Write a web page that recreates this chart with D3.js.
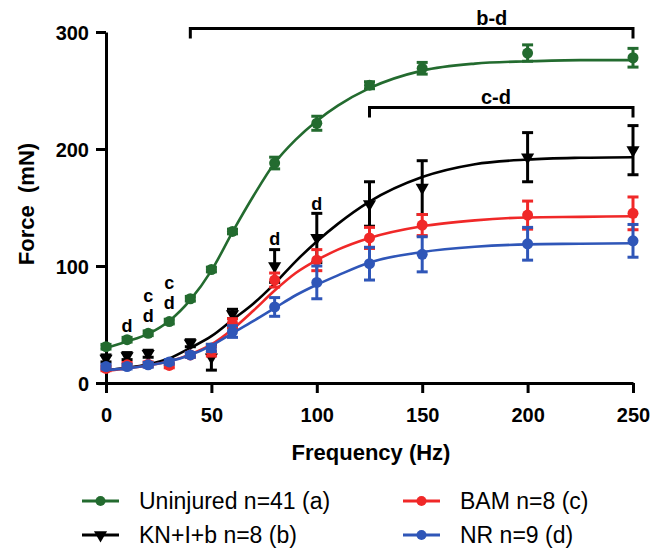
<!DOCTYPE html>
<meta charset="utf-8">
<html>
<head>
<style>
  body { margin: 0; background: #fff; }
  svg { display: block; font-family: Arial, "Liberation Sans", Helvetica, sans-serif; }
  .axis path, .axis line { stroke: #000; stroke-width: 3; }
  .axis text { font-size: 20px; font-weight: bold; fill: #000; }
</style>
<script src="https://d3js.org/d3.v7.min.js"></script>
</head>
<body>
<svg width="658" height="550"></svg>
<script>

// measured frequencies (Hz)
var freqs = [0, 10, 20, 30, 40, 50, 60, 80, 100, 125, 150, 200, 250];

// mean force (mN) and error per group
var uninjuredMean = [31, 37, 42.5, 52.5, 72, 97, 129.5, 188, 222, 254.5, 269, 282, 278];
var uninjuredErr  = [2, 2, 2, 2, 2, 2, 2, 5, 6, 3, 5, 7, 8];
var knMean  = [21, 23, 25, null, 34, 22, 59, 100, 124, 153, 167, 193, 199];
var knErr   = [3, 3, 3, null, 3, 11, 4, 14, 21, 19, 23, 21, 21];
var bamMean = [12.5, 15.5, 16, 15, 24, 27, 51, 88, 105, 124, 135, 143.5, 145];
var bamErr  = [2, 2, 2, 2, 2, 4, 4, 6, 9, 9, 9, 12, 14];
var nrMean  = [14, 14, 15.5, 18, 24, 30, 44, 65, 86, 102, 110, 119, 121.5];
var nrErr   = [2, 2, 2, 2, 2, 3, 5, 8, 14, 14, 15, 14, 14];

// fitted curves, sampled along the drawn lines
var fitFreqs = [0, 10, 20, 30, 40, 50, 60, 70, 80, 90, 100, 110, 125, 150, 175, 200, 225, 250];
var uninjuredFit = [30, 35.5, 42, 53, 71, 96, 129, 160, 188, 208, 224, 237, 252, 267, 273, 275, 276, 276];
var knFit  = [11, 13, 16, 21, 30, 40, 54, 68, 85, 104, 121, 136, 155, 176, 187, 191, 192.5, 193];
var bamFit = [10.5, 12.5, 15, 18.5, 24.5, 33, 46, 62, 79, 94, 105, 114, 124, 134, 139, 141.5, 142, 142.5];
var nrFit  = [11, 12.5, 15, 18.5, 24, 32, 42.5, 53, 64, 75, 84, 92, 103, 112, 116.5, 118.5, 119, 119.5];

var seriesNames = ["Uninjured n=41 (a)", "KN+I+b n=8 (b)", "BAM n=8 (c)", "NR n=9 (d)"];

var xTicks = [0, 50, 100, 150, 200, 250];
var yTicks = [0, 100, 200, 300];

// significance brackets: from/to frequency, force level, label centre frequency
var brackets = [
  { from: 40, to: 250, level: 303, label: "b-d", labelAt: 183 },
  { from: 125, to: 250, level: 235.5, label: "c-d", labelAt: 185 }
];
// letters above single points (top letter first, force level of the top one)
var letters = [
  { f: 10, v: 49.5, t: ["d"] },
  { f: 20, v: 75, t: ["c", "d"] },
  { f: 30, v: 86, t: ["c", "d"] },
  { f: 80, v: 123.5, t: ["d"] },
  { f: 100, v: 153.5, t: ["d"] }
];

var svg = d3.select("svg");

var x = d3.scaleLinear().domain([0, 250]).range([106, 633]);
var y = d3.scaleLinear().domain([0, 300]).range([383, 32]);

var groups = [
  { name: seriesNames[0], mean: uninjuredMean, err: uninjuredErr, fit: uninjuredFit, color: "#236b2f", sym: "circle" },
  { name: seriesNames[1], mean: knMean, err: knErr, fit: knFit, color: "#000000", sym: "tri" },
  { name: seriesNames[2], mean: bamMean, err: bamErr, fit: bamFit, color: "#f02828", sym: "circle" },
  { name: seriesNames[3], mean: nrMean, err: nrErr, fit: nrFit, color: "#2f56b8", sym: "circle" }
];

// axes
var xAxis = svg.append("g")
  .attr("class", "axis")
  .attr("transform", "translate(0," + y(0) + ")")
  .call(d3.axisBottom(x).tickValues(xTicks).tickSize(10).tickSizeOuter(0).tickPadding(15));
xAxis.selectAll("text").attr("dy", "0.72em");

var yAxis = svg.append("g")
  .attr("class", "axis")
  .attr("transform", "translate(" + x(0) + ",0)")
  .call(d3.axisLeft(y).tickValues(yTicks).tickSize(10).tickSizeOuter(0).tickPadding(7));
yAxis.selectAll("text").attr("dy", "0.36em");

svg.append("text")
  .attr("x", 371).attr("y", 460)
  .attr("text-anchor", "middle")
  .attr("font-size", 22).attr("font-weight", "bold")
  .text("Frequency (Hz)");

svg.append("text")
  .attr("transform", "translate(34,204) rotate(-90)")
  .attr("text-anchor", "middle")
  .attr("font-size", 22).attr("font-weight", "bold")
  .style("white-space", "pre")
  .text("Force  (mN)");

var line = d3.line()
  .x(function(d) { return x(d[0]); })
  .y(function(d) { return y(d[1]); })
  .curve(d3.curveMonotoneX);

var triangle = d3.symbol().type(d3.symbolTriangle).size(75);

groups.forEach(function(g) {
  var layer = svg.append("g");
  layer.append("path")
    .attr("d", line(fitFreqs.map(function(f, i) { return [f, g.fit[i]]; })))
    .attr("fill", "none")
    .attr("stroke", g.color)
    .attr("stroke-width", 2.6);

  var pts = freqs.map(function(f, i) { return { f: f, m: g.mean[i], e: g.err[i] }; })
    .filter(function(d) { return d.m != null; });

  var eb = layer.selectAll(".eb").data(pts).enter().append("g")
    .attr("stroke", g.color).attr("stroke-width", 3);
  eb.append("line")
    .attr("x1", function(d) { return x(d.f); }).attr("x2", function(d) { return x(d.f); })
    .attr("y1", function(d) { return y(d.m - d.e); }).attr("y2", function(d) { return y(d.m + d.e); });
  eb.append("line")
    .attr("x1", function(d) { return x(d.f) - 5.5; }).attr("x2", function(d) { return x(d.f) + 5.5; })
    .attr("y1", function(d) { return y(d.m + d.e); }).attr("y2", function(d) { return y(d.m + d.e); });
  eb.append("line")
    .attr("x1", function(d) { return x(d.f) - 5.5; }).attr("x2", function(d) { return x(d.f) + 5.5; })
    .attr("y1", function(d) { return y(d.m - d.e); }).attr("y2", function(d) { return y(d.m - d.e); });

  if (g.sym === "tri") {
    layer.selectAll(".mk").data(pts).enter().append("path")
      .attr("d", triangle)
      .attr("transform", function(d) { return "translate(" + x(d.f) + "," + y(d.m) + ") rotate(180)"; })
      .attr("fill", g.color);
  } else {
    layer.selectAll(".mk").data(pts).enter().append("circle")
      .attr("cx", function(d) { return x(d.f); })
      .attr("cy", function(d) { return y(d.m); })
      .attr("r", 5.5)
      .attr("fill", g.color);
  }
});

// brackets
brackets.forEach(function(b) {
  var yy = y(b.level);
  svg.append("path")
    .attr("d", "M" + x(b.from) + "," + (yy + 10) + "V" + yy + "H" + x(b.to) + "V" + (yy + 10))
    .attr("fill", "none").attr("stroke", "#000").attr("stroke-width", 3);
  svg.append("text")
    .attr("x", x(b.labelAt)).attr("y", yy - 3)
    .attr("text-anchor", "middle")
    .attr("font-size", 20).attr("font-weight", "bold")
    .text(b.label);
});

// stacked letters, each on its own line
letters.forEach(function(d) {
  d.t.forEach(function(s, i) {
    svg.append("text")
      .attr("class", "letter")
      .attr("x", x(d.f))
      .attr("y", y(d.v) + i * 20.5)
      .attr("dy", "0.36em")
      .attr("text-anchor", "middle")
      .attr("font-size", 18).attr("font-weight", "bold")
      .text(s);
  });
});

// legend, two columns
var legendPos = [[82, 501], [82, 535], [403, 501], [403, 535]];
groups.forEach(function(g, i) {
  var p = legendPos[i];
  var lg = svg.append("g").attr("transform", "translate(" + p[0] + "," + p[1] + ")");
  lg.append("line").attr("x1", 0).attr("x2", 37).attr("stroke", g.color).attr("stroke-width", 3);
  if (g.sym === "tri") {
    lg.append("path").attr("d", triangle).attr("transform", "translate(18.5,0) rotate(180)").attr("fill", g.color);
  } else {
    lg.append("circle").attr("cx", 18.5).attr("r", 5).attr("fill", g.color);
  }
  lg.append("text").attr("x", 57).attr("y", 8.3)
    .attr("font-size", 23)
    .text(g.name);
});

</script>
</body>
</html>
